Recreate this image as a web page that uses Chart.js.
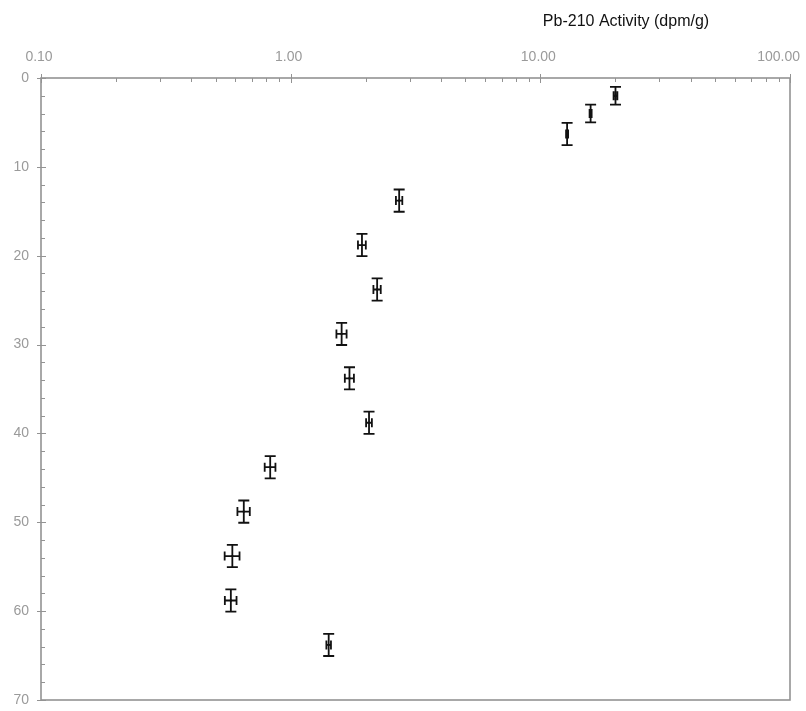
<!DOCTYPE html>
<html>
<head>
<meta charset="utf-8">
<script src="https://cdn.jsdelivr.net/npm/chart.js@4/dist/chart.umd.min.js"></script>
<style>
  html, body { margin: 0; padding: 0; background: #ffffff; }
  #wrap { width: 806px; height: 711px; }
</style>
</head>
<body>
<div id="wrap"><canvas id="c" width="806" height="711"></canvas></div>
<script>
// Pb-210 activity profile against depth
const depth        = [2.0, 4.0, 6.3, 13.8, 18.8, 23.8, 28.8, 33.8, 38.8, 43.8, 48.8, 53.8, 58.8, 63.8];
const activity     = [20.0, 15.9, 12.8, 2.72, 1.93, 2.22, 1.60, 1.72, 2.06, 0.828, 0.649, 0.584, 0.576, 1.42];
const activityErr  = [0.35, 0.15, 0.12, 0.08, 0.07, 0.075, 0.075, 0.072, 0.055, 0.041, 0.037, 0.040, 0.031, 0.030];
const depthErr     = [1.0, 1.0, 1.25, 1.25, 1.25, 1.25, 1.25, 1.25, 1.25, 1.25, 1.25, 1.25, 1.25, 1.25];

const xTickValues  = [0.1, 1, 10, 100];
const xTickLabels  = ['0.10', '1.00', '10.00', '100.00'];
const yTickValues  = [0, 10, 20, 30, 40, 50, 60, 70];
const xMinorValues = [0.1, 1, 10].flatMap(d => [2, 3, 4, 5, 6, 7, 8, 9].map(k => d * k));
const yMinorValues = [2, 4, 6, 8].flatMap(k => [0, 10, 20, 30, 40, 50, 60].map(d => d + k));

const axisTitle = 'Pb-210 Activity (dpm/g)';

const AXIS_COLOR = '#939393';
const LABEL_COLOR = '#9a9a9a';
const FONT = '"Liberation Sans", Arial, sans-serif';

// frame, tick marks, top tick labels and title
const framePlugin = {
  id: 'frame',
  beforeDatasetsDraw(chart) {
    const { ctx, chartArea: a, scales } = chart;
    const xs = scales.x, ys = scales.y;
    ctx.save();
    ctx.strokeStyle = AXIS_COLOR;
    ctx.lineWidth = 1.6;
    ctx.strokeRect(a.left, a.top, a.right - a.left, a.bottom - a.top);
    ctx.lineWidth = 1;
    ctx.beginPath();
    xTickValues.forEach(v => {
      const px = Math.round(xs.getPixelForValue(v)) + 0.5;
      ctx.moveTo(px, a.top - 4); ctx.lineTo(px, a.top + 5);
    });
    xMinorValues.forEach(v => {
      const px = Math.round(xs.getPixelForValue(v)) + 0.5;
      ctx.moveTo(px, a.top); ctx.lineTo(px, a.top + 4);
    });
    yTickValues.forEach(v => {
      const py = Math.round(ys.getPixelForValue(v)) + 0.5;
      ctx.moveTo(a.left - 4, py); ctx.lineTo(a.left + 5, py);
    });
    yMinorValues.forEach(v => {
      const py = Math.round(ys.getPixelForValue(v)) + 0.5;
      ctx.moveTo(a.left, py); ctx.lineTo(a.left + 4, py);
    });
    ctx.stroke();

    // activity tick labels above the top axis, kept inside the canvas
    ctx.fillStyle = LABEL_COLOR;
    ctx.font = '14px ' + FONT;
    ctx.textAlign = 'center';
    ctx.textBaseline = 'middle';
    xTickValues.forEach((v, i) => {
      const w = ctx.measureText(xTickLabels[i]).width;
      let cx = xs.getPixelForValue(v) - 2;
      cx = Math.min(cx, chart.width - 6 - w / 2);
      ctx.fillText(xTickLabels[i], cx, a.top - 21);
    });

    ctx.fillStyle = '#111111';
    ctx.font = '16px ' + FONT;
    ctx.fillText(axisTitle, 626, 22);
    ctx.restore();
  }
};

// two-way error bars with caps
const errorBarPlugin = {
  id: 'errorBars',
  afterDatasetsDraw(chart) {
    const { ctx, scales } = chart;
    const xs = scales.x, ys = scales.y;
    ctx.save();
    ctx.strokeStyle = '#111111';
    ctx.lineWidth = 1.8;
    ctx.beginPath();
    depth.forEach((d, i) => {
      const px = xs.getPixelForValue(activity[i]);
      const py = ys.getPixelForValue(d);
      const y0 = ys.getPixelForValue(d - depthErr[i]);
      const y1 = ys.getPixelForValue(d + depthErr[i]);
      const x0 = xs.getPixelForValue(activity[i] - activityErr[i]);
      const x1 = xs.getPixelForValue(activity[i] + activityErr[i]);
      // vertical (depth) bar
      ctx.moveTo(px, y0); ctx.lineTo(px, y1);
      ctx.moveTo(px - 5.5, y0); ctx.lineTo(px + 5.5, y0);
      ctx.moveTo(px - 5.5, y1); ctx.lineTo(px + 5.5, y1);
      // horizontal (activity) bar
      ctx.moveTo(x0, py); ctx.lineTo(x1, py);
      ctx.moveTo(x0, py - 4.5); ctx.lineTo(x0, py + 4.5);
      ctx.moveTo(x1, py - 4.5); ctx.lineTo(x1, py + 4.5);
    });
    ctx.stroke();
    ctx.restore();
  }
};

new Chart(document.getElementById('c'), {
  type: 'scatter',
  data: {
    datasets: [{
      label: axisTitle,
      data: depth.map((d, i) => ({ x: activity[i], y: d })),
      pointStyle: 'rect',
      pointRadius: 1.4,
      pointBackgroundColor: '#111111',
      pointBorderColor: '#111111',
      pointBorderWidth: 0
    }]
  },
  options: {
    responsive: false,
    animation: false,
    layout: { padding: { left: 0, top: 0, right: 16, bottom: 11 } },
    plugins: {
      legend: { display: false },
      tooltip: { enabled: false }
    },
    scales: {
      x: {
        type: 'logarithmic',
        position: 'top',
        min: 0.1,
        max: 100,
        grid: { display: false, drawTicks: false },
        border: { display: false },
        afterBuildTicks(scale) {
          scale.ticks = xTickValues.map(v => ({ value: v }));
        },
        afterFit(scale) {
          scale.height = 78;
          scale.paddingLeft = 0;
          scale.paddingRight = 0;
        },
        ticks: { display: false }
      },
      y: {
        type: 'linear',
        reverse: true,
        min: 0,
        max: 70,
        grid: { display: false, drawTicks: false },
        border: { display: false },
        afterBuildTicks(scale) {
          scale.ticks = yTickValues.map(v => ({ value: v }));
        },
        afterFit(scale) {
          scale.width = 41;
          scale.paddingTop = 0;
          scale.paddingBottom = 0;
        },
        ticks: {
          autoSkip: false,
          padding: 12,
          color: LABEL_COLOR,
          font: { family: FONT, size: 14 },
          callback: (v) => String(v)
        }
      }
    }
  },
  plugins: [framePlugin, errorBarPlugin]
});
</script>
</body>
</html>
